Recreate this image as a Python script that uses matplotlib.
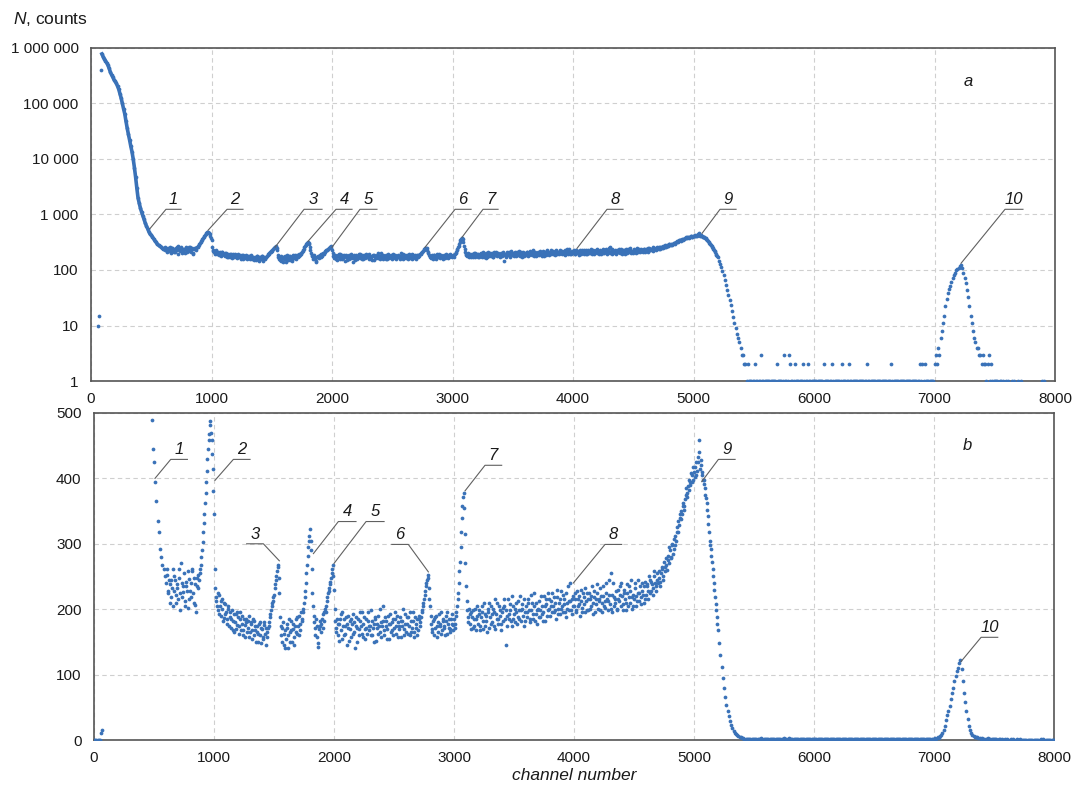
import numpy as np
import matplotlib
matplotlib.use("Agg")
import matplotlib.pyplot as plt

plt.rcParams['font.family'] = ['Liberation Sans', 'DejaVu Sans']
plt.rcParams['mathtext.fontset'] = 'custom'
plt.rcParams['mathtext.it'] = 'Liberation Sans:italic'
plt.rcParams['mathtext.rm'] = 'Liberation Sans'

# spectrum, one value every 10 channels
channels = np.arange(0, 8001, 10)

counts_0 = [
    0, 0, 0, 0, 0, 0, 10, 15, 400000, 780000,
    700000, 640000, 590000, 540000, 490000, 430000, 370000, 330000, 300000, 270000,
    250000, 230000, 205000, 180000, 150000, 125000, 100000, 80000, 65000, 48000,
    36000, 28000, 22000, 17000, 13500, 10000, 7000, 4700, 3000, 2000,
    1600, 1300, 1100, 950, 820, 700, 620, 555, 490, 445,
    425, 395, 365, 335, 318, 292, 280, 268, 262, 250,
    240, 262, 228, 210, 245, 232, 205, 250, 222, 238,
    215, 262, 198, 240, 226, 255, 212, 235, 202, 246,
    228, 218, 258, 210, 238, 196, 248, 232, 255, 268,
    290, 318, 345, 378, 412, 445, 468, 488, 458, 415,
]
counts_1000 = [
    345, 232, 212, 198, 222, 205, 190, 215, 186, 208,
    195, 178, 205, 188, 172, 198, 182, 165, 192, 176,
    188, 162, 195, 178, 168, 185, 158, 180, 172, 190,
    165, 178, 155, 182, 168, 150, 175, 162, 180, 148,
    170, 158, 176, 145, 165, 172, 180, 192, 205, 212,
    222, 238, 250, 265, 248, 188, 160, 172, 145, 168,
    155, 178, 140, 165, 182, 150, 170, 158, 185, 162,
    175, 190, 168, 182, 195, 210, 228, 255, 282, 305,
    322, 290, 225, 190, 172, 185, 158, 142, 175, 165,
    185, 172, 195, 205, 212, 225, 232, 242, 255, 268,
]
counts_2000 = [
    230, 182, 165, 178, 152, 185, 168, 195, 160, 175,
    188, 145, 172, 182, 158, 178, 192, 165, 175, 150,
    185, 170, 196, 162, 178, 188, 155, 172, 182, 168,
    175, 198, 160, 178, 185, 152, 172, 190, 165, 180,
    175, 205, 160, 182, 170, 190, 155, 178, 168, 185,
    172, 195, 162, 180, 175, 188, 158, 182, 170, 192,
    165, 178, 188, 160, 182, 172, 195, 165, 178, 185,
    168, 190, 180, 195, 205, 215, 228, 240, 252, 232,
    205, 178, 165, 185, 172, 190, 158, 180, 175, 195,
    168, 182, 172, 190, 162, 178, 185, 170, 192, 176,
]
counts_3000 = [
    185, 172, 195, 215, 240, 272, 318, 358, 378, 315,
    235, 198, 180, 192, 170, 188, 198, 175, 185, 205,
    178, 192, 168, 195, 182, 210, 175, 190, 200, 172,
    188, 205, 180, 195, 170, 192, 210, 185, 198, 178,
    195, 182, 205, 145, 190, 215, 185, 198, 175, 205,
    192, 180, 210, 188, 198, 220, 182, 200, 175, 195,
    205, 188, 215, 180, 198, 210, 185, 225, 192, 178,
    200, 212, 188, 205, 195, 220, 182, 208, 198, 215,
    190, 205, 225, 195, 210, 185, 218, 200, 192, 228,
    205, 195, 215, 188, 210, 235, 198, 212, 192, 220,
]
counts_4000 = [
    205, 225, 195, 215, 208, 190, 230, 202, 218, 195,
    212, 225, 198, 215, 205, 235, 192, 218, 208, 225,
    200, 215, 232, 195, 220, 205, 212, 240, 198, 222,
    208, 255, 195, 218, 210, 228, 200, 215, 235, 205,
    220, 198, 225, 210, 238, 205, 218, 228, 200, 222,
    215, 240, 205, 225, 212, 235, 218, 228, 210, 242,
    222, 235, 215, 245, 228, 238, 222, 250, 235, 245,
    240, 258, 242, 265, 250, 272, 258, 268, 282, 270,
    290, 280, 300, 292, 312, 305, 325, 318, 340, 350,
    345, 362, 358, 375, 372, 388, 382, 395, 405, 398,
]
counts_5000 = [
    410, 418, 405, 425, 440, 415, 428, 405, 398, 385,
    370, 352, 330, 305, 292, 272, 250, 230, 208, 188,
    168, 148, 130, 112, 95, 80, 66, 54, 44, 36,
    29, 23, 18, 14, 11, 9, 7, 6, 5, 4,
    3, 3, 2, 2, 1, 2, 1, 1, 1, 1,
    1, 2, 1, 1, 1, 1, 3, 1, 1, 1,
    1, 1, 1, 1, 1, 1, 1, 1, 1, 2,
    1, 1, 1, 1, 1, 3, 1, 1, 1, 3,
    2, 1, 1, 1, 2, 1, 1, 1, 1, 1,
    1, 2, 1, 1, 1, 2, 1, 1, 1, 1,
]
counts_6000 = [
    1, 1, 1, 1, 1, 1, 1, 1, 2, 1,
    1, 1, 1, 1, 1, 2, 1, 1, 1, 1,
    1, 1, 1, 2, 1, 1, 1, 1, 1, 2,
    1, 1, 1, 1, 1, 1, 1, 1, 1, 1,
    1, 1, 1, 1, 2, 1, 1, 1, 1, 1,
    1, 1, 1, 1, 1, 1, 1, 1, 1, 1,
    1, 1, 1, 1, 2, 1, 1, 1, 1, 1,
    1, 1, 1, 1, 1, 1, 1, 1, 1, 1,
    1, 1, 1, 1, 1, 1, 1, 1, 2, 1,
    2, 1, 2, 1, 1, 1, 1, 1, 1, 1,
]
counts_7000 = [
    2, 3, 2, 4, 3, 6, 8, 11, 15, 22,
    30, 38, 45, 52, 62, 72, 80, 90, 98, 106,
    110, 118, 122, 108, 90, 72, 58, 44, 32, 22,
    15, 11, 8, 6, 5, 4, 4, 3, 3, 2,
    3, 2, 2, 1, 2, 3, 1, 2, 1, 1,
    1, 1, 1, 0, 1, 1, 0, 1, 0, 1,
    0, 1, 0, 0, 1, 0, 1, 0, 0, 1,
    0, 0, 1, 0, 0, 0, 0, 0, 0, 0,
    0, 0, 0, 0, 0, 0, 0, 0, 0, 1,
    0, 1, 0, 0, 0, 0, 0, 0, 0, 0,
    0,
]

# in-between channels (x5) of the noisy part, 605 ... 5195
mid_channels = np.arange(605, 5200, 10)

mid_600 = [
    252, 225, 244, 238, 218, 262, 228, 245, 210, 232,
    248, 225, 270, 218, 236, 205, 242, 228, 258, 215,
    240, 262, 225, 248, 206, 235, 252, 245, 262, 280,
    302, 332, 362, 395, 430, 458, 482, 470, 438, 380,
]
mid_1000 = [
    262, 218, 205, 225, 192, 212, 200, 182, 210, 192,
    185, 200, 175, 195, 185, 168, 192, 180, 170, 195,
    175, 185, 168, 190, 160, 176, 185, 165, 182, 158,
    180, 168, 185, 160, 175, 165, 150, 178, 160, 172,
    155, 180, 162, 172, 158, 175, 188, 198, 210, 218,
    232, 245, 258, 268, 225, 175, 150, 180, 162, 140,
    172, 160, 185, 150, 168, 178, 145, 175, 165, 188,
    160, 178, 195, 185, 200, 218, 240, 268, 295, 312,
    305, 262, 205, 180, 160, 175, 148, 170, 182, 178,
    192, 182, 200, 195, 218, 228, 238, 248, 262, 250,
]
mid_2000 = [
    200, 172, 185, 160, 178, 192, 155, 175, 185, 162,
    178, 190, 152, 170, 185, 162, 180, 140, 188, 172,
    160, 182, 175, 195, 158, 170, 185, 162, 195, 175,
    160, 182, 172, 150, 188, 178, 162, 175, 200, 158,
    182, 168, 188, 175, 155, 178, 192, 165, 180, 160,
    185, 175, 190, 158, 170, 182, 175, 200, 160, 178,
    188, 162, 175, 195, 165, 182, 158, 188, 172, 160,
    185, 175, 188, 198, 210, 222, 235, 245, 248, 215,
    190, 170, 182, 160, 188, 175, 165, 192, 178, 162,
    185, 175, 160, 182, 195, 172, 165, 185, 178, 168,
]
mid_3000 = [
    178, 190, 205, 225, 258, 295, 340, 372, 355, 270,
    212, 188, 200, 178, 195, 172, 185, 200, 168, 190,
    198, 175, 188, 205, 170, 192, 182, 165, 195, 210,
    178, 192, 200, 175, 215, 185, 178, 205, 190, 168,
    202, 215, 185, 198, 175, 192, 208, 182, 220, 185,
    200, 195, 178, 212, 185, 198, 208, 190, 215, 182,
    195, 210, 198, 185, 222, 192, 205, 182, 210, 198,
    188, 198, 220, 192, 182, 205, 215, 190, 225, 200,
    212, 195, 205, 218, 198, 230, 192, 210, 215, 200,
    222, 208, 195, 225, 200, 212, 240, 198, 215, 205,
]
mid_4000 = [
    215, 198, 228, 205, 220, 212, 195, 225, 208, 232,
    198, 215, 225, 200, 220, 210, 228, 195, 215, 238,
    212, 198, 220, 210, 235, 202, 225, 215, 212, 245,
    200, 222, 240, 205, 215, 198, 230, 212, 222, 240,
    208, 230, 215, 198, 225, 235, 210, 245, 218, 205,
    232, 220, 212, 245, 225, 208, 240, 222, 235, 215,
    238, 228, 250, 225, 242, 232, 258, 240, 228, 255,
    248, 235, 255, 262, 245, 265, 278, 260, 275, 295,
    278, 298, 285, 308, 298, 318, 335, 328, 345, 338,
    358, 352, 368, 385, 378, 398, 390, 408, 395, 418,
]
mid_5000 = [
    402, 425, 412, 432, 458, 420, 410, 398, 392, 375,
    362, 342, 318, 298, 282, 262, 240, 218, 198, 178,
]

counts = np.array(counts_0 + counts_1000 + counts_2000 + counts_3000
                  + counts_4000 + counts_5000 + counts_6000 + counts_7000, dtype=float)
mid_counts = np.array(mid_600 + mid_1000 + mid_2000 + mid_3000
                      + mid_4000 + mid_5000, dtype=float)

all_ch = np.concatenate([channels, mid_channels])
all_n = np.concatenate([counts, mid_counts])

x_ticks = [0, 1000, 2000, 3000, 4000, 5000, 6000, 7000, 8000]
log_ticks = [1, 10, 100, 1000, 10000, 100000, 1000000]
log_tick_labels = ['1', '10', '100', '1 000', '10 000', '100 000', '1 000 000']
lin_ticks = [0, 100, 200, 300, 400, 500]

BLUE = '#3a72b8'
TXT = '#1a1a1a'


def style_axes(ax):
    ax.set_xlim(0, 8000)
    ax.set_xticks(x_ticks)
    ax.grid(True, which='major', color='#cfcfcf', linestyle=(0, (4, 3)), linewidth=0.8)
    ax.set_axisbelow(True)
    ax.tick_params(length=0, labelsize=11, colors=TXT)
    ax.tick_params(axis='y', pad=9)
    ax.tick_params(axis='x', pad=8)
    for s in ax.spines.values():
        s.set_color('#555555')
        s.set_linewidth(1.2)


def callout(ax, label, pt, elbow, end_x):
    ax.plot([pt[0], elbow[0], end_x], [pt[1], elbow[1], elbow[1]],
            color='#606060', lw=0.8, zorder=4, clip_on=False)
    ax.annotate(label, xy=((elbow[0] + end_x) / 2, elbow[1]), xytext=(0, 1.5),
                textcoords='offset points', ha='center', va='bottom',
                fontsize=12, style='italic', color=TXT)


fig = plt.figure(figsize=(10.76, 7.89), dpi=100)
ax1 = fig.add_axes([0.0846, 0.5171, 0.8959, 0.4221])
ax2 = fig.add_axes([0.0874, 0.0621, 0.8922, 0.4145])

# a: log scale
ax1.set_yscale('log', nonpositive='mask')
head = (channels >= 90) & (channels <= 600)
ax1.plot(channels[head], counts[head], '-', color=BLUE, lw=2.6, zorder=3)
ax1.plot(all_ch, all_n, 'o', color=BLUE, ms=2.7, mew=0, zorder=3)
ax1.set_ylim(1, 1e6)
ax1.set_yticks(log_ticks)
ax1.set_yticklabels(log_tick_labels)
ax1.minorticks_off()
style_axes(ax1)
ax1.text(0.91, 0.9, 'a', transform=ax1.transAxes, fontsize=12,
         style='italic', color=TXT, ha='center', va='center')

top_callouts = [
    ('1', (490, 560), (622, 1240), 747),
    ('2', (971, 519), (1129, 1240), 1261),
    ('3', (1527, 257), (1768, 1240), 1917),
    ('4', (1801, 329), (2033, 1240), 2166),
    ('5', (2000, 257), (2232, 1240), 2373),
    ('6', (2772, 257), (3021, 1240), 3154),
    ('7', (3079, 389), (3253, 1240), 3378),
    ('8', (4033, 245), (4282, 1240), 4415),
    ('9', (5071, 458), (5220, 1240), 5353),
    ('10', (7220, 132), (7585, 1240), 7734),
]
for lab, pt, el, ex in top_callouts:
    callout(ax1, lab, pt, el, ex)

# b: linear scale
ax2.plot(all_ch, all_n, 'o', color=BLUE, ms=2.7, mew=0, zorder=3)
ax2.set_ylim(0, 500)
ax2.set_yticks(lin_ticks)
style_axes(ax2)
ax2.set_xlabel('channel number', fontsize=12.5, style='italic', color=TXT, labelpad=2)
ax2.text(0.91, 0.9, 'b', transform=ax2.transAxes, fontsize=12,
         style='italic', color=TXT, ha='center', va='center')

bottom_callouts = [
    ('1', (508, 400), (639, 429), 778),
    ('2', (1008, 397), (1161, 429), 1300),
    ('3', (1544, 274), (1411, 300), 1272),
    ('4', (1828, 285), (2036, 334), 2183),
    ('5', (2000, 270), (2267, 334), 2417),
    ('6', (2786, 257), (2619, 299), 2481),
    ('7', (3092, 381), (3258, 420), 3397),
    ('8', (3994, 240), (4258, 299), 4397),
    ('9', (5064, 395), (5203, 429), 5342),
    ('10', (7225, 120), (7392, 157), 7531),
]
for lab, pt, el, ex in bottom_callouts:
    callout(ax2, lab, pt, el, ex)

fig.text(13 / 1076, 1 - 19 / 789, r'$N$, counts', fontsize=12.5, color=TXT,
         ha='left', va='center')

fig.savefig('out.png', dpi=100)
